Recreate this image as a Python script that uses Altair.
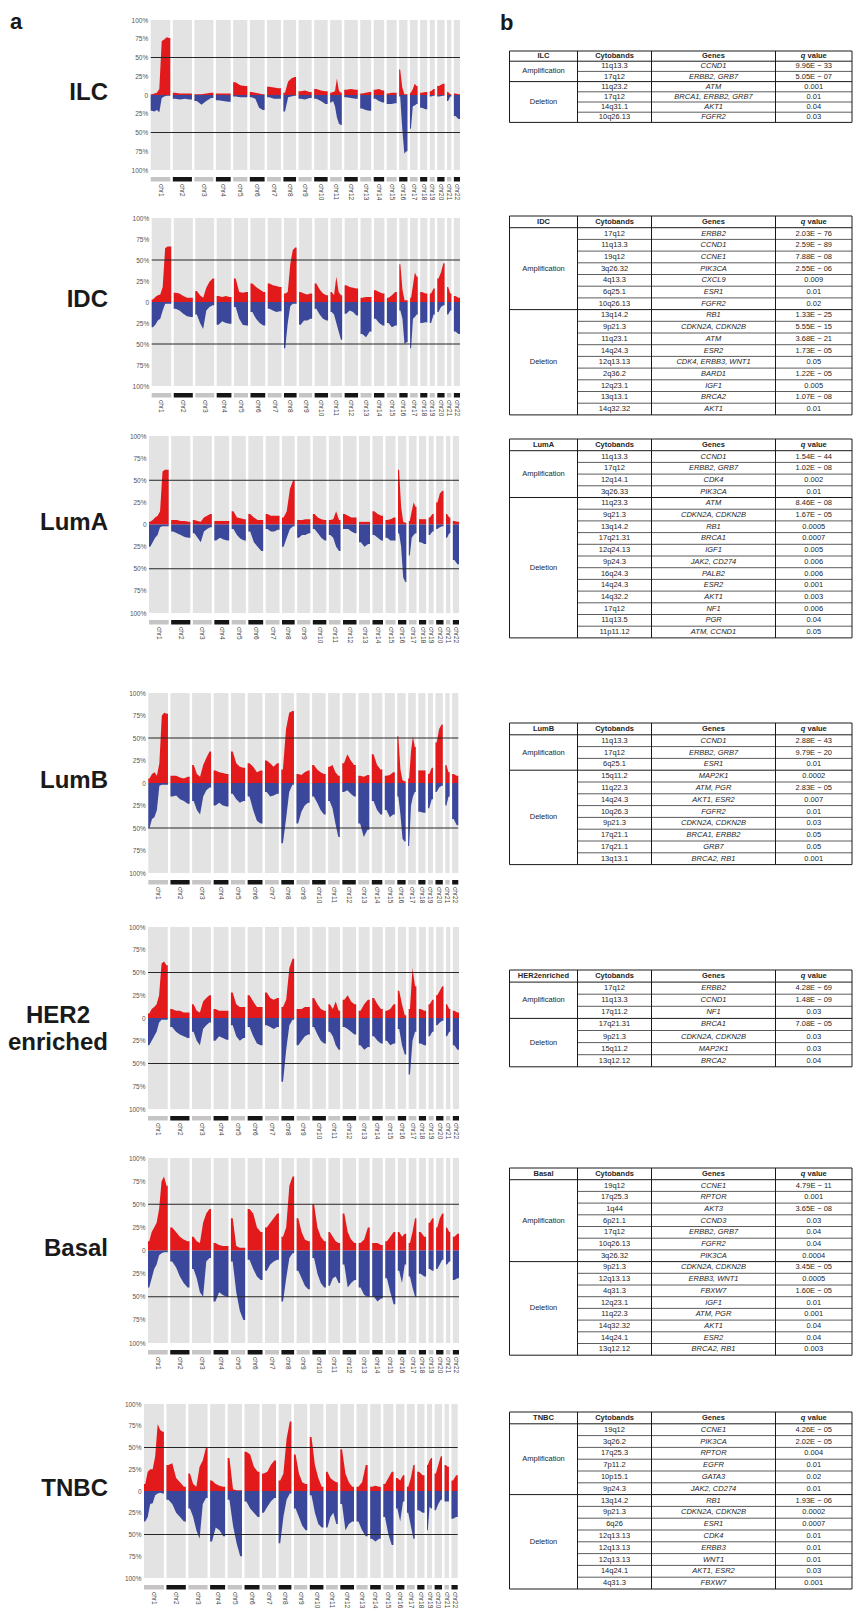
import altair as alt
import pandas as pd

FONT = "Liberation Sans"
RED = "#e31a1c"
BLUE = "#3a479b"
COLUMN_GREY = "#e3e3e3"

# ---------------- chromosome axis ----------------
CHROMS = [f"chr{i}" for i in range(1, 23)]
CHROM_SIZE = [59, 57.5, 57, 44.5, 42.5, 44.5, 41.5, 38, 39.5, 40.5, 35, 40.5,
              33, 31.5, 30, 25, 23, 21.5, 15, 22, 13, 18.5]
GAP = 7.5

# ---------------- copy-number profiles (% of samples), per chromosome segments ----------------
ILC_GAIN = [[1, 2, 3, 8, 72, 74, 77, 76], [3, 2, 2, 2], [1, 1, 2, 3], [2, 2, 2], [17, 13, 12],
            [4, 3, 2, 1], [11, 10, 9], [3, 18, 22, 24], [5, 6, 4], [8, 6, 5], [3, 4, 5, 22, 6, 3],
            [7, 8, 7], [2, 3, 4], [7, 8, 6], [2, 3, 3], [34, 10, 1, 1], [3, 8, 15, 12], [3, 4],
            [5, 8], [12, 15], [4, 1], [2, 1]]
ILC_LOSS = [[21, 22, 20, 23, 4, 2, 1, 1], [5, 6, 5, 6], [8, 13, 8, 4], [7, 8, 9], [2, 3, 3],
            [3, 5, 17, 20], [3, 5, 5], [22, 3, 2, 1], [5, 6, 4], [5, 8, 12], [10, 8, 15, 30, 38, 40],
            [3, 4, 5], [18, 20, 21], [5, 8, 10], [12, 12, 11], [2, 45, 78, 75], [45, 15, 14, 12],
            [17, 19], [2, 1], [2, 1], [8, 2], [28, 32]]

IDC_GAIN = [[3, 6, 8, 9, 18, 64, 66, 66], [11, 10, 7, 5, 5], [13, 8, 5, 17, 24, 28], [7, 6, 7, 6],
            [28, 12, 11, 12], [22, 18, 15, 12], [22, 20, 19, 18], [10, 12, 45, 62, 65],
            [12, 10, 9, 10], [22, 15, 10, 8], [12, 8, 30, 12, 8], [20, 18, 17, 16], [5, 6, 6],
            [14, 12, 10], [5, 8, 12], [45, 15, 2, 2], [5, 20, 35, 30], [12, 10], [10, 16],
            [28, 35, 46], [18, 10], [7, 5]]
IDC_LOSS = [[30, 27, 22, 20, 10, 2, 2, 2], [8, 10, 14, 17, 18], [15, 25, 32, 10, 6, 4],
            [27, 23, 25, 26], [6, 20, 27, 28], [12, 20, 25, 28], [8, 10, 12, 11],
            [55, 25, 5, 2, 2], [27, 22, 22, 20], [8, 15, 20, 22], [12, 15, 25, 35, 45],
            [14, 10, 12, 16], [38, 42, 35], [20, 25, 28], [25, 30, 28], [10, 20, 50, 48],
            [55, 20, 18, 15], [25, 24], [25, 15], [12, 6, 4], [15, 10], [35, 38]]

LUMA_GAIN = [[3, 5, 8, 10, 15, 60, 62, 62], [5, 5, 4, 4, 3], [5, 4, 3, 8, 10, 12], [4, 4, 4, 4],
             [15, 8, 7, 6], [12, 8, 5, 5], [12, 10, 10, 10], [8, 15, 40, 50], [5, 5, 6, 6],
             [12, 8, 6, 5], [5, 6, 15, 5], [12, 10, 8, 8], [3, 3, 3], [15, 12, 10], [5, 6, 8],
             [62, 20, 3, 2], [4, 15, 25, 20], [6, 6], [8, 12], [25, 35, 38], [12, 8], [4, 3]]
LUMA_LOSS = [[25, 20, 15, 12, 3, 2, 2, 2], [8, 10, 12, 14, 15], [10, 15, 20, 8, 5, 3],
             [18, 15, 17, 18], [5, 12, 16, 18], [8, 20, 25, 30], [5, 8, 8, 6], [25, 15, 5, 2],
             [15, 12, 12, 10], [5, 10, 15, 18], [12, 15, 25, 30], [5, 5, 8, 10], [20, 25, 22],
             [12, 15, 18], [15, 18, 18], [10, 25, 60, 65], [35, 15, 12, 10], [20, 22], [12, 8],
             [5, 3, 2], [15, 10], [40, 45]]

LUMB_GAIN = [[5, 10, 12, 8, 22, 75, 78, 77], [8, 8, 6, 5, 7], [20, 10, 7, 20, 28, 35],
             [14, 12, 11, 10], [35, 22, 18, 17], [22, 18, 12, 14], [25, 22, 18, 22],
             [15, 60, 78, 80], [10, 9, 12, 14], [20, 15, 12, 10], [18, 20, 12, 8],
             [22, 32, 25, 20], [8, 7, 9], [32, 20, 15], [8, 9, 12], [52, 15, 3, 2],
             [5, 35, 52, 40], [14, 14], [10, 17], [45, 60, 65], [20, 12], [10, 8]]
LUMB_LOSS = [[50, 40, 38, 30, 3, 2, 2, 2], [15, 14, 18, 20, 23], [20, 30, 35, 15, 8, 5],
             [25, 22, 25, 26], [12, 18, 22, 20], [15, 30, 42, 45], [10, 15, 14, 12],
             [67, 40, 10, 2], [45, 32, 25, 22], [15, 22, 30, 35], [20, 28, 45, 60],
             [10, 8, 12, 15], [45, 60, 52], [20, 30, 35], [30, 38, 35], [15, 35, 62, 65],
             [70, 25, 15, 10], [32, 33], [28, 18], [10, 5, 3], [25, 15], [40, 47]]

HER2_GAIN = [[5, 10, 12, 15, 25, 60, 62, 58], [10, 8, 8, 6, 6], [15, 8, 6, 18, 22, 25],
             [10, 8, 8, 8], [28, 15, 12, 12], [25, 18, 12, 12], [28, 22, 20, 22],
             [12, 20, 55, 65], [10, 10, 12, 12], [22, 15, 10, 8], [15, 10, 18, 8],
             [20, 25, 18, 15], [8, 15, 20], [22, 15, 10], [8, 10, 15], [30, 15, 3],
             [10, 55, 35], [10, 8], [15, 20], [25, 30, 35], [15, 10], [8, 6]]
HER2_LOSS = [[30, 25, 20, 15, 5, 2, 2, 2], [10, 15, 18, 20, 22], [15, 25, 30, 12, 8, 5],
             [25, 20, 22, 24], [8, 20, 25, 22], [10, 20, 28, 30], [8, 10, 12, 10],
             [70, 35, 8, 2], [30, 25, 20, 18], [10, 18, 25, 28], [15, 20, 30, 35],
             [10, 12, 15, 18], [30, 35, 32], [20, 25, 28], [25, 30, 28], [12, 30, 40],
             [62, 25, 15], [28, 30], [20, 15], [8, 5, 3], [20, 15], [30, 35]]

BASAL_GAIN = [[10, 20, 25, 30, 45, 75, 80, 70], [25, 20, 15, 12, 10], [15, 10, 8, 30, 40, 45],
              [8, 6, 5, 5], [35, 5, 3, 3], [45, 40, 25, 20], [25, 30, 35, 40], [15, 25, 70, 80],
              [35, 20, 12, 10], [50, 25, 15, 10], [20, 15, 10, 8], [40, 20, 12, 8], [8, 12, 25],
              [8, 8, 6], [10, 15, 20], [20, 15, 18], [8, 20, 35], [20, 15], [30, 35],
              [25, 35, 40], [25, 20], [15, 18]]
BASAL_LOSS = [[40, 30, 20, 15, 5, 3, 2, 2], [12, 18, 28, 35, 40], [20, 30, 45, 50, 12, 8],
              [55, 45, 48, 50], [12, 45, 65, 75], [10, 20, 28, 32], [22, 15, 12, 10],
              [55, 30, 8, 3], [22, 30, 38, 42], [8, 25, 35, 40], [38, 30, 28, 35],
              [15, 40, 35, 32], [40, 48, 50], [50, 55, 52], [30, 45, 58], [22, 35, 15],
              [28, 40, 50], [25, 28], [20, 22], [20, 15, 10], [15, 12], [32, 30]]

TNBC_GAIN = [[8, 22, 25, 25, 40, 77, 70, 68], [30, 32, 15, 10, 5], [20, 8, 5, 28, 35, 50],
             [12, 8, 6, 5], [38, 2, 1, 1], [45, 42, 28, 22], [20, 22, 30, 35], [12, 20, 60, 80],
             [42, 20, 10, 8], [62, 30, 15, 5], [22, 15, 12, 10], [48, 20, 10, 5], [5, 10, 30],
             [5, 6, 5], [8, 15, 22], [15, 12, 18], [5, 15, 30], [22, 18], [30, 35, 38],
             [20, 30, 40], [30, 28], [12, 18]]
TNBC_LOSS = [[35, 30, 15, 14, 5, 3, 2, 3], [10, 15, 25, 30, 35], [20, 30, 45, 55, 15, 8],
             [58, 42, 45, 52], [10, 40, 60, 75], [12, 20, 25, 30], [25, 18, 12, 8],
             [60, 30, 10, 3], [20, 30, 40, 45], [5, 25, 38, 42], [42, 30, 25, 38],
             [15, 45, 38, 35], [35, 45, 52], [55, 58, 55], [30, 50, 62], [20, 35, 12],
             [25, 40, 55], [22, 25], [45, 18, 20], [22, 15, 10], [12, 12], [32, 30]]

# ---------------- tables ----------------
MINUS = "\u2212"
ILC_BANDS = ["11q13.3", "17q12", "11q23.2", "17q12", "14q31.1", "10q26.13"]
ILC_GENES = ["CCND1", "ERBB2, GRB7", "ATM", "BRCA1, ERBB2, GRB7", "AKT1", "FGFR2"]
ILC_Q = [f"9.96E {MINUS} 33", f"5.05E {MINUS} 07", "0.001", "0.01", "0.04", "0.03"]
ILC_NAMP = 2

IDC_BANDS = ["17q12", "11q13.3", "19q12", "3q26.32", "4q13.3", "6q25.1", "10q26.13",
             "13q14.2", "9p21.3", "11q23.1", "14q24.3", "12q13.13", "2q36.2", "12q23.1", "13q13.1", "14q32.32"]
IDC_GENES = ["ERBB2", "CCND1", "CCNE1", "PIK3CA", "CXCL9", "ESR1", "FGFR2",
             "RB1", "CDKN2A, CDKN2B", "ATM", "ESR2", "CDK4, ERBB3, WNT1", "BARD1", "IGF1", "BRCA2", "AKT1"]
IDC_Q = [f"2.03E {MINUS} 76", f"2.59E {MINUS} 89", f"7.88E {MINUS} 08", f"2.55E {MINUS} 06", "0.009", "0.01", "0.02",
         f"1.33E {MINUS} 25", f"5.55E {MINUS} 15", f"3.68E {MINUS} 21", f"1.73E {MINUS} 05", "0.05",
         f"1.22E {MINUS} 05", "0.005", f"1.07E {MINUS} 08", "0.01"]
IDC_NAMP = 7

LUMA_BANDS = ["11q13.3", "17q12", "12q14.1", "3q26.33", "11q23.3", "9q21.3", "13q14.2", "17q21.31",
              "12q24.13", "9p24.3", "16q24.3", "14q24.3", "14q32.2", "17q12", "11q13.5", "11p11.12"]
LUMA_GENES = ["CCND1", "ERBB2, GRB7", "CDK4", "PIK3CA", "ATM", "CDKN2A, CDKN2B", "RB1", "BRCA1",
              "IGF1", "JAK2, CD274", "PALB2", "ESR2", "AKT1", "NF1", "PGR", "ATM, CCND1"]
LUMA_Q = [f"1.54E {MINUS} 44", f"1.02E {MINUS} 08", "0.002", "0.01", f"8.46E {MINUS} 08", f"1.67E {MINUS} 05",
          "0.0005", "0.0007", "0.005", "0.006", "0.006", "0.001", "0.003", "0.006", "0.04", "0.05"]
LUMA_NAMP = 4

LUMB_BANDS = ["11q13.3", "17q12", "6q25.1", "15q11.2", "11q22.3", "14q24.3", "10q26.3", "9p21.3",
              "17q21.1", "17q21.1", "13q13.1"]
LUMB_GENES = ["CCND1", "ERBB2, GRB7", "ESR1", "MAP2K1", "ATM, PGR", "AKT1, ESR2", "FGFR2",
              "CDKN2A, CDKN2B", "BRCA1, ERBB2", "GRB7", "BRCA2, RB1"]
LUMB_Q = [f"2.88E {MINUS} 43", f"9.79E {MINUS} 20", "0.01", "0.0002", f"2.83E {MINUS} 05", "0.007", "0.01",
          "0.03", "0.05", "0.05", "0.001"]
LUMB_NAMP = 3

HER2_BANDS = ["17q12", "11q13.3", "17q11.2", "17q21.31", "9p21.3", "15q11.2", "13q12.12"]
HER2_GENES = ["ERBB2", "CCND1", "NF1", "BRCA1", "CDKN2A, CDKN2B", "MAP2K1", "BRCA2"]
HER2_Q = [f"4.28E {MINUS} 69", f"1.48E {MINUS} 09", "0.03", f"7.08E {MINUS} 05", "0.03", "0.03", "0.04"]
HER2_NAMP = 3

BASAL_BANDS = ["19q12", "17q25.3", "1q44", "6p21.1", "17q12", "10q26.13", "3q26.32", "9p21.3",
               "12q13.13", "4q31.3", "12q23.1", "11q22.3", "14q32.32", "14q24.1", "13q12.12"]
BASAL_GENES = ["CCNE1", "RPTOR", "AKT3", "CCND3", "ERBB2, GRB7", "FGFR2", "PIK3CA", "CDKN2A, CDKN2B",
               "ERBB3, WNT1", "FBXW7", "IGF1", "ATM, PGR", "AKT1", "ESR2", "BRCA2, RB1"]
BASAL_Q = [f"4.79E {MINUS} 11", "0.001", f"3.65E {MINUS} 08", "0.03", "0.04", "0.04", "0.0004",
           f"3.45E {MINUS} 05", "0.0005", f"1.60E {MINUS} 05", "0.01", "0.001", "0.04", "0.04", "0.003"]
BASAL_NAMP = 7

TNBC_BANDS = ["19q12", "3q26.2", "17q25.3", "7p11.2", "10p15.1", "9p24.3", "13q14.2", "9p21.3",
              "6q26", "12q13.13", "12q13.13", "12q13.13", "14q24.1", "4q31.3"]
TNBC_GENES = ["CCNE1", "PIK3CA", "RPTOR", "EGFR", "GATA3", "JAK2, CD274", "RB1", "CDKN2A, CDKN2B",
              "ESR1", "CDK4", "ERBB3", "WNT1", "AKT1, ESR2", "FBXW7"]
TNBC_Q = [f"4.26E {MINUS} 05", f"2.02E {MINUS} 05", "0.004", "0.01", "0.02", "0.01", f"1.93E {MINUS} 06",
          "0.0002", "0.0007", "0.01", "0.01", "0.01", "0.03", "0.001"]
TNBC_NAMP = 6

# ---------------- layout (page pixels) ----------------
# name, row label, plot_left, plot_right, plot_top, plot_h, table_top, table_row_h
LAYOUT = [
    ("ILC", "ILC", 150.7, 460.0, 20, 150, 51, 10.2),
    ("IDC", "IDC", 151.7, 460.0, 218, 168, 216, 11.7),
    ("LumA", "LumA", 149.0, 459.0, 436, 177, 439, 11.7),
    ("LumB", "LumB", 148.3, 458.3, 693, 180, 723, 11.8),
    ("HER2enriched", "HER2\nenriched", 148.0, 459.0, 927, 182, 970, 12.1),
    ("Basal", "Basal", 148.0, 459.0, 1158, 185, 1168, 11.7),
    ("TNBC", "TNBC", 144.0, 457.7, 1404, 174, 1412, 11.8),
]
PROFILES = {
    "ILC": (ILC_GAIN, ILC_LOSS), "IDC": (IDC_GAIN, IDC_LOSS), "LumA": (LUMA_GAIN, LUMA_LOSS),
    "LumB": (LUMB_GAIN, LUMB_LOSS), "HER2enriched": (HER2_GAIN, HER2_LOSS),
    "Basal": (BASAL_GAIN, BASAL_LOSS), "TNBC": (TNBC_GAIN, TNBC_LOSS),
}
TABLES = {
    "ILC": (ILC_BANDS, ILC_GENES, ILC_Q, ILC_NAMP), "IDC": (IDC_BANDS, IDC_GENES, IDC_Q, IDC_NAMP),
    "LumA": (LUMA_BANDS, LUMA_GENES, LUMA_Q, LUMA_NAMP), "LumB": (LUMB_BANDS, LUMB_GENES, LUMB_Q, LUMB_NAMP),
    "HER2enriched": (HER2_BANDS, HER2_GENES, HER2_Q, HER2_NAMP),
    "Basal": (BASAL_BANDS, BASAL_GENES, BASAL_Q, BASAL_NAMP), "TNBC": (TNBC_BANDS, TNBC_GENES, TNBC_Q, TNBC_NAMP),
}
PAGE = 8            # body margin of the page
CANVAS_W = 845
CANVAS_H = 1602
TABLE_LEFT = 509.5
COL_EDGES = [0, 68, 142, 266, 342.5]
LABEL_RIGHT = 108
HER2_LABEL_CENTER = 58
STRIP_GAP = 7
STRIP_H = 4.5

# ---------------- derived frames ----------------
starts = []
p = 0.0
for s in CHROM_SIZE:
    starts.append(p)
    p += s + GAP
TOTAL = p - GAP
chrom_df = pd.DataFrame({
    "chrom": CHROMS,
    "start": starts,
    "end": [a + b for a, b in zip(starts, CHROM_SIZE)],
    "mid": [a + b / 2 for a, b in zip(starts, CHROM_SIZE)],
    "shade": ["light" if i % 2 == 0 else "dark" for i in range(22)],
    "lo": [-100] * 22,
    "hi": [100] * 22,
    "s0": [0] * 22,
    "s1": [1] * 22,
})
THRESH_DF = pd.DataFrame({"level": [50, -50], "x0": [0, 0], "x1": [TOTAL, TOTAL]})


def profile_df(gain, loss):
    """Segment values sit at segment centres; the chromosome edges repeat the end values."""
    rows = []
    for ci in range(22):
        s0, L = starts[ci], CHROM_SIZE[ci]
        for series, vals, sign in (("gain", gain[ci], 1), ("loss", loss[ci], -1)):
            n = len(vals)
            rows.append({"chrom": CHROMS[ci], "series": series, "x": s0, "y": sign * vals[0]})
            for i, v in enumerate(vals):
                rows.append({"chrom": CHROMS[ci], "series": series, "x": s0 + L * (i + 0.5) / n, "y": sign * v})
            rows.append({"chrom": CHROMS[ci], "series": series, "x": s0 + L, "y": sign * vals[-1]})
    return pd.DataFrame(rows)


def row_layers(i):
    key, label, pl, pr, ptop, H, ttop, rh = LAYOUT[i]
    px0, px1 = pl - PAGE, pr - PAGE
    py0 = ptop - PAGE

    # ---- copy number panel ----
    xsc = alt.Scale(domain=[0, TOTAL], range=[px0, px1], nice=False, zero=False)
    ysc = alt.Scale(domain=[-100, 100], range=[py0 + H, py0], nice=False, zero=False)
    yax = alt.Axis(orient="left", values=[-100, -75, -50, -25, 0, 25, 50, 75, 100],
                   labelExpr="datum.value == 0 ? '0' : abs(datum.value) + '%'",
                   domain=False, ticks=False, grid=False, labelFontSize=6.5,
                   labelColor="#555555", labelPadding=3, title=None, offset=-px0)
    bg = alt.Chart(chrom_df).mark_rect(color=COLUMN_GREY).encode(
        x=alt.X("start:Q", scale=xsc, axis=None), x2="end:Q",
        y=alt.Y("lo:Q", scale=ysc, axis=yax), y2="hi:Q")
    gain, loss = PROFILES[key]
    area = alt.Chart(profile_df(gain, loss)).mark_area(interpolate="linear").encode(
        x=alt.X("x:Q", scale=xsc, axis=None),
        y=alt.Y("y:Q", scale=ysc, axis=None, stack=False),
        y2=alt.datum(0),
        color=alt.Color("series:N", scale=alt.Scale(domain=["gain", "loss"], range=[RED, BLUE]), legend=None),
        detail="chrom:N")
    rules = alt.Chart(THRESH_DF).mark_rule(color="#262626", strokeWidth=1).encode(
        x=alt.X("x0:Q", scale=xsc, axis=None), x2="x1:Q",
        y=alt.Y("level:Q", scale=ysc, axis=None))
    if key == "HER2enriched":
        lx, la = HER2_LABEL_CENTER - PAGE, "center"
    else:
        lx, la = LABEL_RIGHT - PAGE, "right"
    lab = alt.Chart(pd.DataFrame({"t": [label]})).mark_text(
        fontSize=24, fontWeight="bold", align=la, baseline="middle",
        lineBreak="\n", lineHeight=27, color="#1a1a1a").encode(
        text="t:N", x=alt.value(lx), y=alt.value(py0 + H / 2 - 2))

    # ---- chromosome strip ----
    st = py0 + H + STRIP_GAP
    ssc = alt.Scale(domain=[0, 1], range=[st + STRIP_H, st], nice=False, zero=False)
    bars = alt.Chart(chrom_df).mark_rect().encode(
        x=alt.X("start:Q", scale=xsc, axis=None), x2="end:Q",
        y=alt.Y("s0:Q", scale=ssc, axis=None), y2="s1:Q",
        color=alt.Color("shade:N", scale=alt.Scale(domain=["light", "dark"], range=["#c7c4c5", "#151515"]),
                        legend=None))
    names = alt.Chart(chrom_df).mark_text(angle=90, align="left", baseline="middle",
                                          fontSize=6.5, color="#444444").encode(
        x=alt.X("mid:Q", scale=xsc, axis=None), y=alt.value(st + STRIP_H + 2.5), text="chrom:N")

    # ---- table ----
    bands, genes, qs, n_amp = TABLES[key]
    n = len(bands)
    N = n + 1
    TW = COL_EDGES[-1]
    tl = TABLE_LEFT - PAGE
    tt = ttop - PAGE
    txs = alt.Scale(domain=[0, TW], range=[tl, tl + TW], nice=False, zero=False)
    tys = alt.Scale(domain=[0, N], range=[tt, tt + N * rh], nice=False, zero=False)
    cx = [(COL_EDGES[j] + COL_EDGES[j + 1]) / 2 for j in range(4)]
    plain, ital = [], []
    for j, (b, g, q) in enumerate(zip(bands, genes, qs)):
        yv = 1.5 + j
        plain.append({"x": cx[1], "y": yv, "t": b})
        ital.append({"x": cx[2], "y": yv, "t": g})
        plain.append({"x": cx[3], "y": yv, "t": q})
    plain.append({"x": cx[0], "y": 1 + n_amp / 2, "t": "Amplification"})
    plain.append({"x": cx[0], "y": 1 + n_amp + (n - n_amp) / 2, "t": "Deletion"})
    head = [{"x": cx[0], "y": 0.5, "t": key}, {"x": cx[1], "y": 0.5, "t": "Cytobands"},
            {"x": cx[2], "y": 0.5, "t": "Genes"}]

    def tenc():
        return dict(x=alt.X("x:Q", scale=txs, axis=None), y=alt.Y("y:Q", scale=tys, axis=None), text="t:N")

    base_txt = dict(fontSize=7.5, baseline="middle", color="#262626")
    t_plain = alt.Chart(pd.DataFrame(plain)).mark_text(align="center", **base_txt).encode(**tenc())
    t_ital = alt.Chart(pd.DataFrame(ital)).mark_text(align="center", fontStyle="italic", **base_txt).encode(**tenc())
    t_head = alt.Chart(pd.DataFrame(head)).mark_text(align="center", fontWeight="bold", **base_txt).encode(**tenc())
    t_q = alt.Chart(pd.DataFrame([{"x": cx[3], "y": 0.5, "t": "q"}])).mark_text(
        align="left", fontWeight="bold", fontStyle="italic", dx=-13, **base_txt).encode(**tenc())
    t_val = alt.Chart(pd.DataFrame([{"x": cx[3], "y": 0.5, "t": "value"}])).mark_text(
        align="left", fontWeight="bold", dx=-6.2, **base_txt).encode(**tenc())

    thick_h = [{"x": 0, "x2": TW, "y": yv} for yv in (0, 1, 1 + n_amp, N)]
    thin_h = [{"x": COL_EDGES[1], "x2": TW, "y": 1 + j} for j in range(1, n) if j != n_amp]
    vert = [{"x": e, "y": 0, "y2": N} for e in COL_EDGES]
    r_thin = alt.Chart(pd.DataFrame(thin_h)).mark_rule(color="#333333", strokeWidth=0.8).encode(
        x=alt.X("x:Q", scale=txs, axis=None), x2="x2:Q", y=alt.Y("y:Q", scale=tys, axis=None))
    r_thick = alt.Chart(pd.DataFrame(thick_h)).mark_rule(color="#1a1a1a", strokeWidth=1).encode(
        x=alt.X("x:Q", scale=txs, axis=None), x2="x2:Q", y=alt.Y("y:Q", scale=tys, axis=None))
    r_vert = alt.Chart(pd.DataFrame(vert)).mark_rule(color="#1a1a1a", strokeWidth=1).encode(
        x=alt.X("x:Q", scale=txs, axis=None), y=alt.Y("y:Q", scale=tys, axis=None), y2="y2:Q")

    layers = [bg, area, rules, lab, bars, names, r_thin, r_thick, r_vert, t_plain, t_ital, t_head, t_q, t_val]
    if i == 0:
        layers.append(alt.Chart(pd.DataFrame({"t": ["a"]})).mark_text(
            fontSize=22, fontWeight="bold", align="left", baseline="alphabetic", color="#1a1a1a").encode(
            text="t:N", x=alt.value(10 - PAGE), y=alt.value(29 - PAGE)))
        layers.append(alt.Chart(pd.DataFrame({"t": ["b"]})).mark_text(
            fontSize=22, fontWeight="bold", align="left", baseline="alphabetic", color="#1a1a1a").encode(
            text="t:N", x=alt.value(500 - PAGE), y=alt.value(29.5 - PAGE)))
    return layers


all_layers = []
for i in range(len(LAYOUT)):
    all_layers += row_layers(i)

chart = alt.layer(*all_layers).resolve_scale(
    x="independent", y="independent", color="independent"
).properties(
    width=CANVAS_W, height=CANVAS_H,
    autosize=alt.AutoSizeParams(type="none"),
    padding={"left": 0, "top": 0, "right": 0, "bottom": 0},
).configure(font=FONT).configure_view(stroke="transparent")

chart.save("out.html", embed_options={"renderer": "svg", "actions": False})
